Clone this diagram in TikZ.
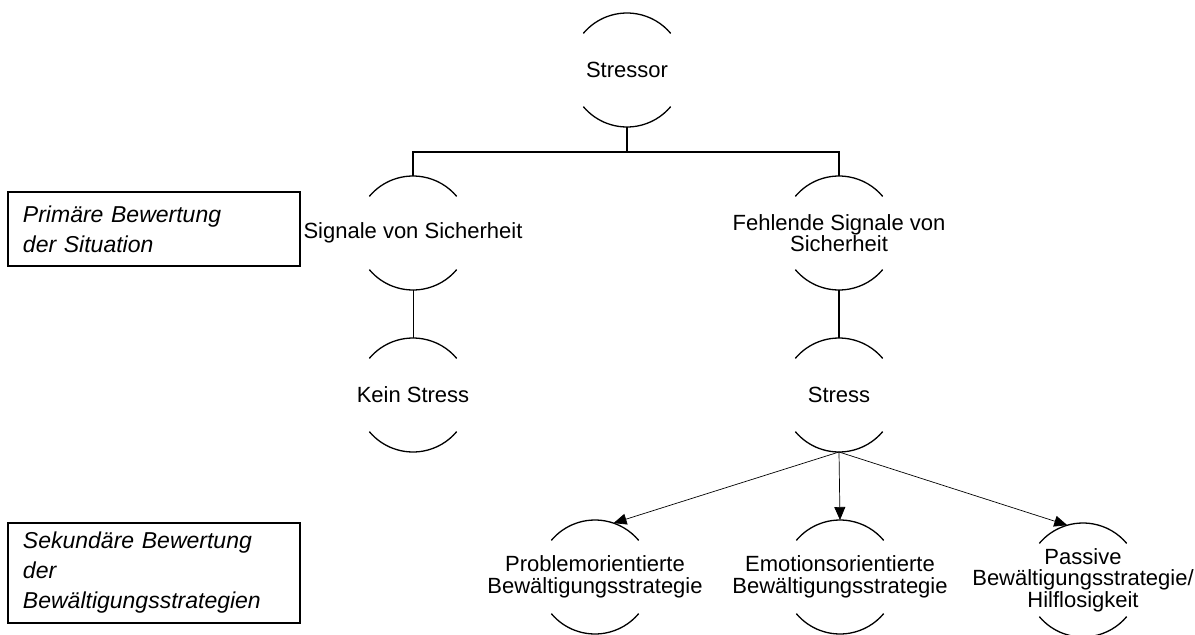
\documentclass[tikz,border=0pt]{standalone}
\usepackage{fontspec}
\setmainfont{Liberation Sans}
\usetikzlibrary{arrows.meta}
\begin{document}
\begin{tikzpicture}[x=1pt,y=1pt,
    stage/.style={circle,minimum size=114pt,inner sep=0pt,outer sep=0pt},
    txt/.style={align=center,font=\fontsize{22}{21.5}\selectfont},
    arc/.style={line width=1.3pt},
    tree/.style={line width=1.3pt},
    thin/.style={line width=0.7pt},
    level/.style={draw,line width=1.2pt,minimum width=292pt,inner xsep=15pt,text width=262pt,
      align=left,font=\fontsize{23}{30}\selectfont\itshape},
    to/.style={thin,-{Triangle[length=13pt,width=11pt]}}]
  \useasboundingbox (0,0) rectangle (1195,-635);
  \node[stage,label={[txt]center:Stressor}] (stressor) at (627,-70) {};
  \node[stage,label={[txt]center:Signale von Sicherheit}] (safe) at (413,-233) {};
  \node[stage,label={[txt]center:Fehlende Signale von\\Sicherheit}] (unsafe) at (839,-233) {};
  \node[stage,label={[txt]center:Kein Stress}] (nostress) at (413,-395) {};
  \node[stage,label={[txt]center:Stress}] (stress) at (839,-395) {};
  \node[stage,label={[txt]center:Problemorientierte\\Bewältigungsstrategie}] (prob) at (595,-577) {};
  \node[stage,label={[txt]center:Emotionsorientierte\\Bewältigungsstrategie}] (emo) at (840,-577) {};
  \node[stage,label={[txt]center:Passive\\Bewältigungsstrategie/\\Hilflosigkeit}] (pass) at (1083,-580) {};
  \foreach \n in {stressor,safe,unsafe,nostress,stress,prob,emo,pass} {
    \draw[arc] (\n.140) arc[start angle=140,end angle=40,radius=57pt];
    \draw[arc] (\n.220) arc[start angle=220,end angle=320,radius=57pt];
  }
  \draw[tree] (stressor.south) -- ++(0,-25) coordinate (fork);
  \draw[tree] (safe.north) |- (fork) -| (unsafe.north);
  \draw[thin] (safe.south) -- (nostress.north);
  \draw[tree] (unsafe.south) -- (stress.north);
  \draw[to] (stress.south) -- (prob.71);
  \draw[to] (stress.south) -- (emo.north);
  \draw[to] (stress.south) -- (pass.106);
  \node[level,minimum height=74pt] (primary) at (154,-229) {Primäre Bewertung\\der Situation};
  \node[level,minimum height=100pt] (secondary) at (154,-573) {Sekundäre Bewertung\\der\\Bewältigungsstrategien};
\end{tikzpicture}
\end{document}
